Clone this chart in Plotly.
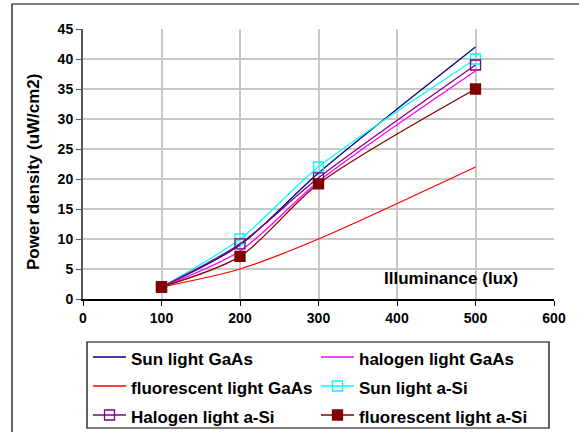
import plotly.graph_objects as go

illuminance = [100, 200, 300, 500]
sun_gaas = [2, 9, 21, 42]
halogen_gaas = [2, 8, 19.6, 38]
fluor_gaas = [2, 5, 10, 22]
sun_asi = [2, 10, 22, 40]
halogen_asi = [2, 9.2, 20.2, 39]
fluor_asi = [2, 7.1, 19.2, 35]

x_ticks = [0, 100, 200, 300, 400, 500, 600]
y_ticks = [0, 5, 10, 15, 20, 25, 30, 35, 40, 45]

series = [
    ("Sun light GaAs", sun_gaas, "#000080", None),
    ("halogen light GaAs", halogen_gaas, "#FF00FF", None),
    ("fluorescent light GaAs", fluor_gaas, "#FF0000", None),
    ("Sun light a-Si", sun_asi, "#00FFFF", "square-open"),
    ("Halogen light a-Si", halogen_asi, "#800080", "square-open"),
    ("fluorescent light a-Si", fluor_asi, "#800000", "square"),
]

fig = go.Figure()
for name, vals, color, sym in series:
    kw = dict(
        x=illuminance, y=vals,
        name='<span style="font-size:17px">' + name + '</span>',
        line=dict(color=color, width=1.3, shape="spline", smoothing=0.8),
    )
    if sym:
        kw["mode"] = "lines+markers"
        kw["marker"] = dict(symbol=sym, size=10, color=color,
                            line=dict(color=color, width=1.3))
    else:
        kw["mode"] = "lines"
    fig.add_trace(go.Scatter(**kw))

L, R, T, B = 83, 25, 29, 133
W, H = 579, 432
pw, ph = W - L - R, H - T - B

def px(xp):
    return (xp - L) / pw

def py(yp):
    return (H - B - yp) / ph

font = "Liberation Sans, Arial, sans-serif"

fig.update_layout(
    width=W, height=H,
    margin=dict(l=L, r=R, t=T, b=B, pad=0, autoexpand=False),
    paper_bgcolor="white", plot_bgcolor="white",
    font=dict(family=font, color="black", size=14),
    showlegend=True,
    legend=dict(
        orientation="h", x=px(88), y=py(337.5), xanchor="left", yanchor="top",
        borderwidth=0, bgcolor="rgba(0,0,0,0)",
        font=dict(family=font, size=20, color="black", weight="bold"),
        entrywidth=180, entrywidthmode="pixels", itemwidth=33,
        traceorder="normal",
    ),
    xaxis=dict(
        range=[0, 600], tickvals=x_ticks, ticktext=[str(v) for v in x_ticks],
        showgrid=True, gridcolor="#C8C8C8", gridwidth=1.5,
        showline=True, linecolor="black", linewidth=1.5,
        ticks="outside", ticklen=5, tickcolor="black",
        tickfont=dict(family=font, size=14, weight="bold"),
        zeroline=False, fixedrange=True,
    ),
    yaxis=dict(
        range=[0, 45], tickvals=y_ticks, ticktext=[str(v) for v in y_ticks],
        showgrid=True, gridcolor="#C8C8C8", gridwidth=1.5,
        showline=True, linecolor="#555555", linewidth=2,
        ticks="outside", ticklen=5, tickcolor="#555555",
        tickfont=dict(family=font, size=14, weight="bold"),
        zeroline=False, fixedrange=True,
    ),
    annotations=[
        dict(text="Power density (uW/cm2)", textangle=-90, xref="paper", yref="paper",
             x=px(33), y=py(172), xanchor="center", yanchor="middle", showarrow=False,
             font=dict(family=font, size=17, weight="bold")),
        dict(text="Illuminance (lux)", xref="paper", yref="paper",
             x=px(451), y=py(278), xanchor="center", yanchor="middle", showarrow=False,
             font=dict(family=font, size=17, weight="bold")),
    ],
    shapes=[
        dict(type="rect", xref="paper", yref="paper",
             x0=px(12), x1=px(W + 5), y0=py(H + 5), y1=py(4),
             line=dict(color="black", width=1.2), fillcolor="rgba(0,0,0,0)", layer="below"),
        dict(type="rect", xref="paper", yref="paper",
             x0=px(87), x1=px(549), y0=py(428), y1=py(342),
             line=dict(color="black", width=1.2), fillcolor="rgba(0,0,0,0)", layer="above"),
    ],
)

fig.write_html(
    "out.html",
    config={"displayModeBar": False},
    post_script="document.body.style.margin='0';document.body.style.padding='0';",
)
